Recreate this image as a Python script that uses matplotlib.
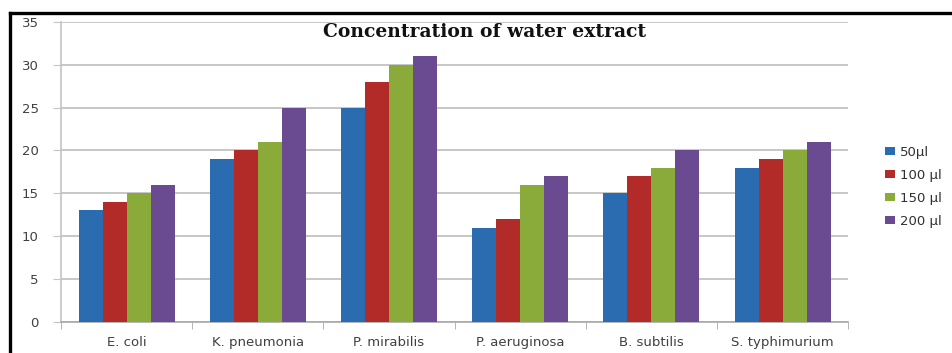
from matplotlib import pyplot as plt
from matplotlib.lines import Line2D
import numpy as np

bacterias = ["E. coli", "K. pneumonia", "P. mirabilis", "P. aeruginosa",
             "B. subtilis", "S. typhimurium"]
conc_50 = [13, 19, 25, 11, 15, 18]
conc_100 = [14, 20, 28, 12, 17, 19]
conc_150 = [15, 21, 30, 16, 18, 20]
conc_200 = [16, 25, 31, 17, 20, 21]
rotulos = ["50\u00b5l", "100 \u00b5l", "150 \u00b5l", "200 \u00b5l"]
cores = ["#2b6cb0", "#b22b29", "#8aab3a", "#6a4b91"]

series = [conc_50, conc_100, conc_150, conc_200]

fig = plt.figure(figsize=(9.52, 3.53), dpi=100, facecolor="white")
ax = fig.add_axes([0.064, 0.088, 0.827, 0.850])

x = np.arange(len(bacterias))
largura = 0.183

# barras
for i, (vals, cor, rot) in enumerate(zip(series, cores, rotulos)):
    ax.bar(x + (i - 1.5) * largura, vals, largura, color=cor, label=rot, zorder=3)

ax.set_ylim(0, 35)
ax.set_xlim(-0.5, len(bacterias) - 0.5)
ax.set_yticks(range(0, 36, 5))
ax.set_xticks(x)
ax.set_xticklabels(bacterias)
ax.set_xticks(np.arange(-0.5, len(bacterias), 1), minor=True)

ax.grid(axis="y", color="#bdbdbd", linewidth=1.2, zorder=0)
for lado in ["top", "right"]:
    ax.spines[lado].set_visible(False)
ax.spines["left"].set_color("#c4c4c4")
ax.spines["bottom"].set_color("#a8a8a8")
ax.spines["left"].set_linewidth(1.2)
ax.spines["bottom"].set_linewidth(1.2)

ax.tick_params(axis="y", colors="#c4c4c4", labelcolor="#404040",
               labelsize=9.5, length=6, pad=10)
ax.tick_params(axis="x", which="major", length=0, labelcolor="#404040",
               labelsize=9.5, pad=10)
ax.tick_params(axis="x", which="minor", length=5, colors="#a8a8a8")

# titulo
fig.text(485 / 952, 1 - 32 / 353, "Concentration of water extract",
         family="DejaVu Serif", fontweight="bold", fontsize=13.5,
         ha="center", va="center", color="#111111")

# legenda
fig.legend(loc="upper left", bbox_to_anchor=(873 / 952, 1 - 134 / 353),
           frameon=False, fontsize=9.5, handlelength=0.75, handleheight=0.55,
           handletextpad=0.4, labelspacing=0.75, labelcolor="#303030")

# moldura preta
fig.add_artist(Line2D([10 / 952, 1], [1 - 13 / 353, 1 - 13 / 353],
                      color="black", linewidth=2.4, transform=fig.transFigure))
fig.add_artist(Line2D([10 / 952, 10 / 952], [0, 1 - 13 / 353],
                      color="black", linewidth=2.4, transform=fig.transFigure))

fig.savefig("out.png", dpi=100, facecolor="white")
